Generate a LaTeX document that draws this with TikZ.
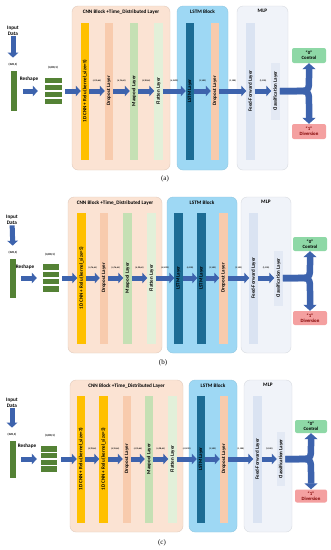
\documentclass[tikz,border=0pt]{standalone}
\usepackage{fontspec}
\setmainfont{Carlito}
\newfontfamily\capfont{Liberation Serif}
\usetikzlibrary{arrows.meta,positioning,fit}
\definecolor{arrblue}{HTML}{3D63AD}
\definecolor{ingreen}{HTML}{548235}
\definecolor{cnnbg}{HTML}{FBE3D3}
\definecolor{lstmbg}{HTML}{9ED8F4}
\definecolor{mlpbg}{HTML}{F0F3F9}
\definecolor{convc}{HTML}{FFC000}
\definecolor{dropc}{HTML}{F8CBAD}
\definecolor{poolc}{HTML}{C5E0B4}
\definecolor{flatc}{HTML}{E2F0D9}
\definecolor{lstmc}{HTML}{1C6C94}
\definecolor{ffc}{HTML}{DAE3F2}
\definecolor{clsc}{HTML}{E3E9F4}
\definecolor{ctlc}{HTML}{8ED8A6}
\definecolor{divc}{HTML}{F4A0A0}
\tikzset{
  blk/.style={rounded corners=6pt, line width=0.4pt, inner sep=0},
  blkcnn/.style={blk, fill=cnnbg, draw=cnnbg!90!black},
  blklstm/.style={blk, fill=lstmbg, draw=lstmbg!92!black},
  blkmlp/.style={blk, fill=mlpbg, draw=mlpbg!90!black},
  ttl/.style={font=\bfseries\fontsize{5.2}{6}\selectfont, inner sep=0},
  lay/.style={minimum width=8.5pt, inner sep=0, outer sep=0},
  ltxt/.style={rotate=90, font=\bfseries\fontsize{5}{6}\selectfont, inner sep=0},
  conv/.style={lay, fill=convc},
  drop/.style={lay, fill=dropc},
  pool/.style={lay, fill=poolc},
  flat/.style={lay, fill=flatc},
  lstm/.style={lay, fill=lstmc},
  ff/.style={lay, fill=ffc},
  cls/.style={lay, fill=clsc},
  barr/.style={draw=arrblue, line width=5pt, -{Triangle[length=5pt,width=10.5pt]}},
  forkarr/.style={draw=arrblue, line width=6.5pt, -{Triangle[length=6pt,width=13pt]}},
  dim/.style={font=\bfseries\fontsize{2.2}{2.5}\selectfont, above=7pt, inner sep=0},
  shp/.style={font=\bfseries\fontsize{3}{3.5}\selectfont, inner sep=0.3pt},
  txt/.style={font=\bfseries\fontsize{5.2}{6}\selectfont, align=center, inner sep=0.5pt},
  grn/.style={fill=ingreen, inner sep=0, outer sep=0},
  outbox/.style={rounded corners=2pt, align=center, font=\bfseries\fontsize{4.8}{5.4}\selectfont, inner sep=0},
  ctl/.style={outbox, fill=ctlc},
  dvs/.style={outbox, fill=divc, text=red!50!black},
  capt/.style={font=\capfont\fontsize{7}{8}\selectfont, inner sep=0}
}
\begin{document}
\begin{tikzpicture}[x=1pt, y=-1pt]
  \fill[white] (0,0) rectangle (331,550);
  \useasboundingbox (0,0) rectangle (331,550);

  % (a) single 1D CNN, single LSTM
  \begin{scope}[lay/.append style={minimum height=137pt}]
    \node[blkcnn, minimum width=98pt, minimum height=164pt] (cnnA) at (121,88) {};
    \node[ttl, below=3.5pt of cnnA.north] (cnnAt) {CNN Block +Time\_Distributed Layer};
    \node[blklstm, minimum width=51pt, minimum height=164pt] (lbA) at (202.5,88) {};
    \node[ttl, below=3.5pt of lbA.north] (lbAt) {LSTM Block};
    \node[blkmlp, minimum width=51pt, minimum height=164pt] (mbA) at (262.5,88) {};
    \node[ttl, below=3.5pt of mbA.north] (mbAt) {MLP};

    \node[txt] (inA) at (13,31) {Input\\Data};
    \node[shp] (shA) at (13,65) {(320,1)};
    \node[grn, minimum width=6pt, minimum height=40pt] (sqA) at (14,91) {};
    \node[txt] (rsA) at (29,79) {Reshape};
    \foreach \i/\y in {1/80.5,2/87.5,3/94.5,4/101.5}
      \node[grn, minimum width=17pt, minimum height=5.5pt] (rA\i) at (53.5,\y) {};
    \node[fit=(rA1)(rA4), inner sep=0] (rA) {};
    \node[shp] (r4A) at (53,68) {(4,80,1)};

    \node[conv, label={[ltxt]center:{1D CNN + Relu (kernel\_size=5)}}] (cvA) at (85,91) {};
    \node[drop, label={[ltxt]center:{Dropout Layer}}] (dpA) at (109,91) {};
    \node[pool, label={[ltxt]center:{Maxpool Layer}}] (mpA) at (134,91) {};
    \node[flat, label={[ltxt]center:{Flatten Layer}}] (flA) at (158.5,91) {};
    \node[lstm, label={[ltxt]center:{LSTM Layer}}] (lsA) at (190,91) {};
    \node[drop, label={[ltxt]center:{Dropout Layer}}] (d2A) at (215,91) {};
    \node[ff, label={[ltxt]center:{Feed-Forward Layer}}] (ffA) at (250.5,91) {};
    \node[cls, minimum height=57pt, label={[ltxt]center:{Classification Layer}}] (clA) at (275.5,91) {};
    \node[ctl, minimum width=34pt, minimum height=15pt] (ctA) at (309,55.5) {“0”\\Control};
    \node[dvs, minimum width=34pt, minimum height=15pt] (dvA) at (309,131.5) {“1”\\Diversion};

    \draw[barr, shorten >=5.5pt] (inA) -- (shA);
    \draw[barr, shorten <=6pt, shorten >=7pt] (sqA) -- (rA);
    \draw[barr, shorten <=3pt] (rA) -- (cvA);
    \draw[barr] (cvA) -- node[dim] {(4,76,64)} (dpA);
    \draw[barr] (dpA) -- node[dim] {(4,76,64)} (mpA);
    \draw[barr] (mpA) -- node[dim] {(4,38,64)} (flA);
    \draw[barr] (flA) -- node[dim] {(4,2432)} (lsA);
    \draw[barr] (lsA) -- node[dim] {(1,100)} (d2A);
    \draw[barr] (d2A) -- node[dim] {(1,100)} (ffA);
    \draw[barr] (ffA) -- node[dim] {(1,100)} (clA);
    \draw[forkarr] (clA.east) -- (296,91) .. controls (309,91) .. (309,78) -- (ctA);
    \draw[forkarr] (clA.east) -- (296,91) .. controls (309,91) .. (309,104) -- (dvA);
    \node[capt] (cpA) at (165,179) {(a)};
  \end{scope}

  % (b) single 1D CNN, two LSTMs
  \begin{scope}[lay/.append style={minimum height=131pt}]
    \node[blkcnn, minimum width=94pt, minimum height=156pt] (cnnB) at (115,275) {};
    \node[ttl, below=3.5pt of cnnB.north] (cnnBt) {CNN Block +Time\_Distributed Layer};
    \node[blklstm, minimum width=70pt, minimum height=156pt] (lbB) at (202,275) {};
    \node[ttl, below=3.5pt of lbB.north] (lbBt) {LSTM Block};
    \node[blkmlp, minimum width=50pt, minimum height=156pt] (mbB) at (266,275) {};
    \node[ttl, below=3.5pt of mbB.north] (mbBt) {MLP};

    \node[txt] (inB) at (12,220) {Input\\Data};
    \node[shp] (shB) at (13,253) {(320,1)};
    \node[grn, minimum width=6pt, minimum height=39pt] (sqB) at (13,278) {};
    \node[txt] (rsB) at (25,267) {Reshape};
    \foreach \i/\y in {1/267.2,2/274.4,3/281.6,4/288.8}
      \node[grn, minimum width=16pt, minimum height=5.5pt] (rB\i) at (51,\y) {};
    \node[fit=(rB1)(rB4), inner sep=0] (rB) {};
    \node[shp] (r4B) at (50,255) {(4,80,1)};

    \node[conv, label={[ltxt]center:{1D CNN + Relu (kernel\_size=5)}}] (cvB) at (81.5,278) {};
    \node[drop, label={[ltxt]center:{Dropout Layer}}] (dpB) at (104,278) {};
    \node[pool, label={[ltxt]center:{Maxpool Layer}}] (mpB) at (127.5,278) {};
    \node[flat, label={[ltxt]center:{Flatten Layer}}] (flB) at (151.5,278) {};
    \node[lstm, label={[ltxt]center:{LSTM Layer}}] (ls1B) at (178.5,278) {};
    \node[lstm, label={[ltxt]center:{LSTM Layer}}] (ls2B) at (201.5,278) {};
    \node[drop, label={[ltxt]center:{Dropout Layer}}] (d2B) at (223.5,278) {};
    \node[ff, label={[ltxt]center:{Feed-Forward Layer}}] (ffB) at (253.5,278) {};
    \node[cls, minimum height=55pt, label={[ltxt]center:{Classification Layer}}] (clB) at (278.5,278) {};
    \node[ctl, minimum width=34pt, minimum height=14pt] (ctB) at (310,244) {“0”\\Control};
    \node[dvs, minimum width=34pt, minimum height=14pt] (dvB) at (310,318) {“1”\\Diversion};

    \draw[barr, shorten >=5.5pt] (inB) -- (shB);
    \draw[barr, shorten <=5pt, shorten >=6pt] (sqB) -- (rB);
    \draw[barr, shorten <=3pt] (rB) -- (cvB);
    \draw[barr] (cvB) -- node[dim] {(4,76,64)} (dpB);
    \draw[barr] (dpB) -- node[dim] {(4,76,64)} (mpB);
    \draw[barr] (mpB) -- node[dim] {(4,38,64)} (flB);
    \draw[barr] (flB) -- node[dim] {(4,2432)} (ls1B);
    \draw[barr] (ls1B) -- node[dim] {(4,100)} (ls2B);
    \draw[barr] (ls2B) -- node[dim] {(1,100)} (d2B);
    \draw[barr] (d2B) -- node[dim] {(1,100)} (ffB);
    \draw[barr] (ffB) -- node[dim] {(1,100)} (clB);
    \draw[forkarr] (clB.east) -- (297,278) .. controls (310,278) .. (310,265) -- (ctB);
    \draw[forkarr] (clB.east) -- (297,278) .. controls (310,278) .. (310,291) -- (dvB);
    \node[capt] (cpB) at (163,363) {(b)};
  \end{scope}

  % (c) two 1D CNNs, single LSTM
  \begin{scope}[lay/.append style={minimum height=127pt}]
    \node[blkcnn, minimum width=113pt, minimum height=152pt] (cnnC) at (126.5,456) {};
    \node[ttl, below=3.5pt of cnnC.north] (cnnCt) {CNN Block +Time\_Distributed Layer};
    \node[blklstm, minimum width=48pt, minimum height=152pt] (lbC) at (213,456) {};
    \node[ttl, below=3.5pt of lbC.north] (lbCt) {LSTM Block};
    \node[blkmlp, minimum width=48pt, minimum height=152pt] (mbC) at (268,456) {};
    \node[ttl, below=3.5pt of mbC.north] (mbCt) {MLP};

    \node[txt] (inC) at (12,403) {Input\\Data};
    \node[shp] (shC) at (12,435) {(320,1)};
    \node[grn, minimum width=6pt, minimum height=37pt] (sqC) at (13,459) {};
    \node[txt] (rsC) at (27,446) {Reshape};
    \foreach \i/\y in {1/448.9,2/455.6,3/462.4,4/469.1}
      \node[grn, minimum width=16pt, minimum height=5.5pt] (rC\i) at (49,\y) {};
    \node[fit=(rC1)(rC4), inner sep=0] (rC) {};
    \node[shp] (r4C) at (50,436) {(4,80,1)};

    \node[conv, label={[ltxt]center:{1D CNN + Relu (kernel\_size=3)}}] (cv1C) at (81,459) {};
    \node[conv, label={[ltxt]center:{1D CNN + Relu (kernel\_size=3)}}] (cv2C) at (103.5,459) {};
    \node[drop, label={[ltxt]center:{Dropout Layer}}] (dpC) at (127,459) {};
    \node[pool, label={[ltxt]center:{Maxpool Layer}}] (mpC) at (149,459) {};
    \node[flat, label={[ltxt]center:{Flatten Layer}}] (flC) at (172.5,459) {};
    \node[lstm, label={[ltxt]center:{LSTM Layer}}] (lsC) at (201,459) {};
    \node[drop, label={[ltxt]center:{Dropout Layer}}] (d2C) at (224,459) {};
    \node[ff, label={[ltxt]center:{Feed-Forward Layer}}] (ffC) at (257.5,459) {};
    \node[cls, minimum height=54pt, label={[ltxt]center:{Classification Layer}}] (clC) at (281,459) {};
    \node[ctl, minimum width=32pt, minimum height=13pt] (ctC) at (311,426.5) {“0”\\Control};
    \node[dvs, minimum width=32pt, minimum height=13pt] (dvC) at (311,496) {“1”\\Diversion};

    \draw[barr, shorten >=5.5pt] (inC) -- (shC);
    \draw[barr, shorten <=5pt, shorten >=4pt] (sqC) -- (rC);
    \draw[barr, shorten <=4pt] (rC) -- (cv1C);
    \draw[barr] (cv1C) -- node[dim] {(4,78,64)} (cv2C);
    \draw[barr] (cv2C) -- node[dim] {(4,76,64)} (dpC);
    \draw[barr] (dpC) -- node[dim] {(4,76,64)} (mpC);
    \draw[barr] (mpC) -- node[dim] {(4,38,64)} (flC);
    \draw[barr] (flC) -- node[dim] {(4,2432)} (lsC);
    \draw[barr] (lsC) -- node[dim] {(1,100)} (d2C);
    \draw[barr] (d2C) -- node[dim] {(1,100)} (ffC);
    \draw[barr] (ffC) -- node[dim] {(1,100)} (clC);
    \draw[forkarr] (clC.east) -- (298,459) .. controls (311,459) .. (311,446) -- (ctC);
    \draw[forkarr] (clC.east) -- (298,459) .. controls (311,459) .. (311,472) -- (dvC);
    \node[capt] (cpC) at (162,543) {(c)};
  \end{scope}
\end{tikzpicture}
\end{document}
